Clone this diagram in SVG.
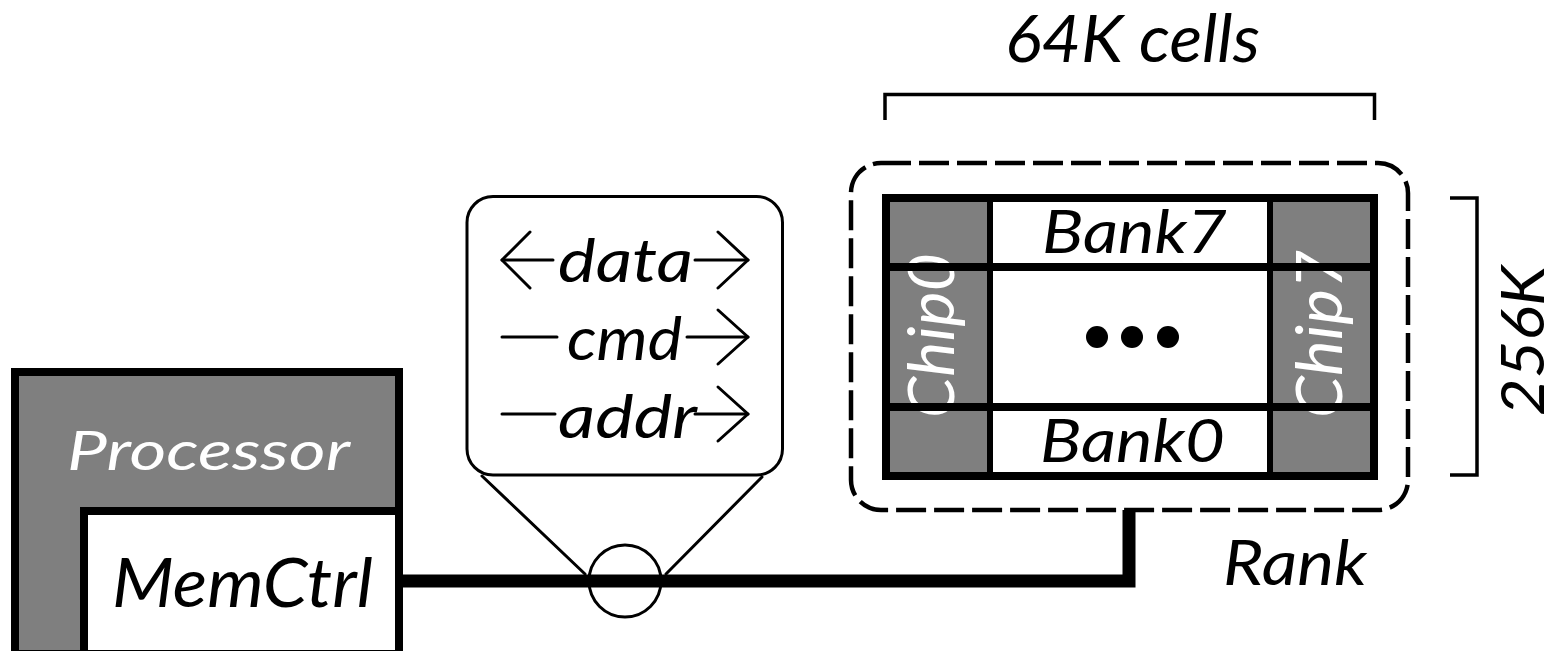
<svg xmlns="http://www.w3.org/2000/svg" width="1560" height="651" viewBox="0 0 1560 651">
  <style>
    .lbl { font-family: Lato, "Open Sans", "Liberation Sans", sans-serif; font-style: italic; fill: #000; }
    .inv { fill: #fff; }
    .thin { fill: none; stroke: #000; stroke-width: 3; stroke-linecap: round; stroke-linejoin: round; }
    .heavy { fill: none; stroke: #000; stroke-width: 8; }
    .gray { fill: #7f7f7f; }
  </style>
  <rect width="1560" height="651" fill="#fff"/>

  <!-- Processor block with the memory controller tucked in its corner -->
  <g id="processor">
    <rect x="15" y="372" width="384" height="282" class="gray" stroke="#000" stroke-width="8"/>
    <text class="lbl inv" x="67" y="470" font-size="54" textLength="283" lengthAdjust="spacingAndGlyphs">Processor</text>
  </g>
  <g id="memctrl">
    <rect x="84" y="511" width="315" height="143" fill="#fff" stroke="#000" stroke-width="8"/>
    <text class="lbl" x="112" y="607" font-size="68" textLength="261" lengthAdjust="spacingAndGlyphs">MemCtrl</text>
  </g>

  <!-- Bus wiring between controller and rank -->
  <g id="connectors">
    <polyline points="400,581 1129,581 1129,510" fill="none" stroke="#000" stroke-width="13" stroke-linejoin="miter"/>
    <circle cx="625" cy="581" r="36" fill="none" stroke="#000" stroke-width="3"/>
    <line x1="482" y1="476" x2="585" y2="574" class="thin"/>
    <line x1="762" y1="477" x2="666" y2="574" class="thin"/>
  </g>

  <!-- Bus signal callout -->
  <g id="callout">
    <rect x="467" y="196.5" width="315.5" height="278.5" rx="26" fill="#fff" stroke="#000" stroke-width="3"/>
    <!-- data (bidirectional) -->
    <polyline points="530,232 502,260 530,288" class="thin"/>
    <line x1="502" y1="260" x2="553" y2="260" class="thin"/>
    <line x1="695" y1="260" x2="748" y2="260" class="thin"/>
    <polyline points="718,232 748,260 718,288" class="thin"/>
    <text class="lbl" x="558" y="282" font-size="60" textLength="135" lengthAdjust="spacingAndGlyphs">data</text>
    <!-- cmd -->
    <line x1="502" y1="337" x2="557" y2="337" class="thin"/>
    <line x1="687" y1="337" x2="748" y2="337" class="thin"/>
    <polyline points="718,310 748,337 718,364" class="thin"/>
    <text class="lbl" x="567" y="360" font-size="60" textLength="115" lengthAdjust="spacingAndGlyphs">cmd</text>
    <!-- addr -->
    <line x1="502" y1="414" x2="555" y2="414" class="thin"/>
    <line x1="695" y1="414" x2="748" y2="414" class="thin"/>
    <polyline points="718,387 748,414 718,441" class="thin"/>
    <text class="lbl" x="558" y="438" font-size="60" textLength="139" lengthAdjust="spacingAndGlyphs">addr</text>
  </g>

  <!-- Rank: chips side by side, banks stacked -->
  <g id="rank">
    <rect x="851" y="163" width="557" height="347" rx="30" fill="none" stroke="#000" stroke-width="4.5" stroke-dasharray="30 8"/>
    <rect x="886" y="198" width="488" height="278" fill="#fff"/>
    <rect x="886" y="198" width="104" height="278" class="gray"/>
    <rect x="1270" y="198" width="104" height="278" class="gray"/>
    <text class="lbl inv" transform="translate(954,418) rotate(-90)" font-size="64" textLength="165" lengthAdjust="spacingAndGlyphs">Chip0</text>
    <text class="lbl inv" transform="translate(1342,418) rotate(-90)" font-size="64" textLength="168" lengthAdjust="spacingAndGlyphs">Chip7</text>
    <line x1="886" y1="267" x2="1374" y2="267" stroke="#000" stroke-width="8"/>
    <line x1="886" y1="407" x2="1374" y2="407" stroke="#000" stroke-width="8"/>
    <line x1="990" y1="198" x2="990" y2="476" stroke="#000" stroke-width="6"/>
    <line x1="1270" y1="198" x2="1270" y2="476" stroke="#000" stroke-width="6"/>
    <rect x="886" y="198" width="488" height="278" class="heavy"/>
    <text class="lbl" x="1042" y="253" font-size="60" textLength="185" lengthAdjust="spacingAndGlyphs">Bank7</text>
    <text class="lbl" x="1040" y="462" font-size="60" textLength="185" lengthAdjust="spacingAndGlyphs">Bank0</text>
    <circle cx="1097" cy="337" r="11"/>
    <circle cx="1132" cy="337" r="11"/>
    <circle cx="1168" cy="337" r="11"/>
    <text class="lbl" x="1223" y="585" font-size="63" textLength="144" lengthAdjust="spacingAndGlyphs">Rank</text>
  </g>

  <!-- Dimension brackets -->
  <g id="dim-width">
    <path d="M885,120 V94.5 H1374.5 V120" fill="none" stroke="#000" stroke-width="3.5"/>
    <text class="lbl" x="1005" y="62" font-size="65" textLength="255" lengthAdjust="spacingAndGlyphs">64K cells</text>
  </g>
  <g id="dim-height">
    <path d="M1450,198 H1477 V475 H1450" fill="none" stroke="#000" stroke-width="3.5"/>
    <text class="lbl" transform="translate(1544,416) rotate(-90)" font-size="60" textLength="150" lengthAdjust="spacingAndGlyphs">256K</text>
  </g>
</svg>
